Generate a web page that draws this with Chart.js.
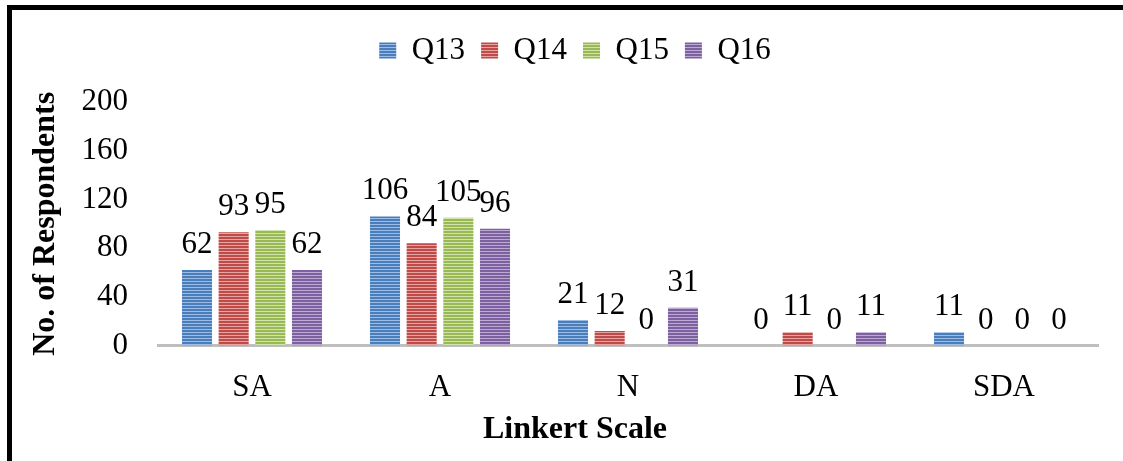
<!DOCTYPE html>
<html>
<head>
<meta charset="utf-8">
<script src="https://cdn.jsdelivr.net/npm/chart.js@4/dist/chart.umd.min.js"></script>
<style>
  html, body { margin: 0; padding: 0; background: #fff; overflow: hidden; }
  #wrap { position: relative; width: 1123px; height: 461px; }
  #frame { position: absolute; left: 7px; top: 5px; width: 1200px; height: 600px;
           border-left: 5px solid #000; border-top: 5px solid #000; box-sizing: border-box; }
  #chart { position: absolute; left: 0; top: 0; }
</style>
</head>
<body>
<div id="wrap">
  <div id="frame"></div>
  <canvas id="chart" width="1123" height="461"></canvas>
</div>
<script>
// Responses per Likert category for each question
const categories = ['SA', 'A', 'N', 'DA', 'SDA'];
const seriesNames = ['Q13', 'Q14', 'Q15', 'Q16'];
const q13 = [62, 106, 21, 0, 11];
const q14 = [93, 84, 12, 11, 0];
const q15 = [95, 105, 0, 0, 0];
const q16 = [62, 96, 31, 11, 0];
const yMin = 0, yMax = 200, yStep = 40;

const FONT = '"Liberation Serif", "Times New Roman", serif';

// Horizontal striped fill used for the bars
function stripes(base, light) {
  const c = document.createElement('canvas');
  c.width = 4; c.height = 3;
  const g = c.getContext('2d');
  g.fillStyle = base; g.fillRect(0, 0, 4, 3);
  g.fillStyle = light; g.fillRect(0, 2, 4, 1);
  return g.createPattern(c, 'repeat');
}

const fills = [
  stripes('#4a7ebb', '#9dbce6'),
  stripes('#be4b48', '#e6a5a3'),
  stripes('#98b954', '#d2e3ad'),
  stripes('#7d60a0', '#bcaad3')
];

// Extra room between the legend row and the plot
const legendGap = {
  id: 'legendGap',
  beforeInit(chart) {
    const legend = chart.legend;
    if (!legend) return;
    const orig = legend.fit;
    legend.fit = function () { orig.call(this); this.height += 26; };
  }
};

// Value labels above each bar
const valueLabels = {
  id: 'valueLabels',
  afterDatasetsDraw(chart) {
    const ctx = chart.ctx;
    ctx.save();
    ctx.font = '31px ' + FONT;
    ctx.fillStyle = '#000';
    ctx.textAlign = 'center';
    ctx.textBaseline = 'alphabetic';
    chart.data.datasets.forEach((ds, i) => {
      chart.getDatasetMeta(i).data.forEach((bar, j) => {
        ctx.fillText(String(ds.data[j]), bar.x, bar.y - 17);
      });
    });
    ctx.restore();
  }
};

const values = [q13, q14, q15, q16];

new Chart(document.getElementById('chart'), {
  type: 'bar',
  data: {
    labels: categories,
    datasets: seriesNames.map((name, i) => ({
      label: name,
      data: values[i],
      backgroundColor: fills[i],
      borderWidth: 0,
      categoryPercentage: 0.78,
      barPercentage: 0.82
    }))
  },
  options: {
    responsive: false,
    animation: false,
    devicePixelRatio: 1,
    layout: { padding: { left: 27, right: 0, top: 19, bottom: 0 } },
    plugins: {
      tooltip: { enabled: false },
      legend: {
        position: 'top',
        labels: {
          boxWidth: 17,
          boxHeight: 16,
          padding: 16,
          color: '#000',
          font: { family: FONT, size: 31 }
        }
      },
      // Category-axis caption, centred across the whole chart box
      title: {
        display: true,
        position: 'bottom',
        text: 'Linkert Scale',
        color: '#000',
        padding: { top: 0, bottom: 12 },
        font: { family: FONT, size: 32, weight: 'bold' }
      }
    },
    scales: {
      x: {
        grid: { display: false, drawTicks: false },
        border: { display: true, color: '#bfbfbf', width: 3 },
        ticks: { color: '#000', padding: 24, font: { family: FONT, size: 31 } },
        afterFit(scale) { scale.height = 65; }
      },
      y: {
        min: yMin,
        max: yMax,
        grid: { display: false, drawTicks: false },
        border: { display: false },
        ticks: { stepSize: yStep, color: '#000', padding: 30, font: { family: FONT, size: 31 } },
        title: {
          display: true,
          text: 'No. of Respondents',
          color: '#000',
          padding: { top: 0, bottom: 0 },
          font: { family: FONT, size: 32, weight: 'bold' }
        },
        afterFit(scale) { scale.width = 131; }
      },
      // Empty right-hand margin of the plot
      yR: {
        position: 'right',
        display: true,
        grid: { display: false, drawTicks: false },
        border: { display: false },
        ticks: { display: false },
        afterFit(scale) { scale.width = 25; }
      }
    }
  },
  plugins: [legendGap, valueLabels]
});
</script>
</body>
</html>
